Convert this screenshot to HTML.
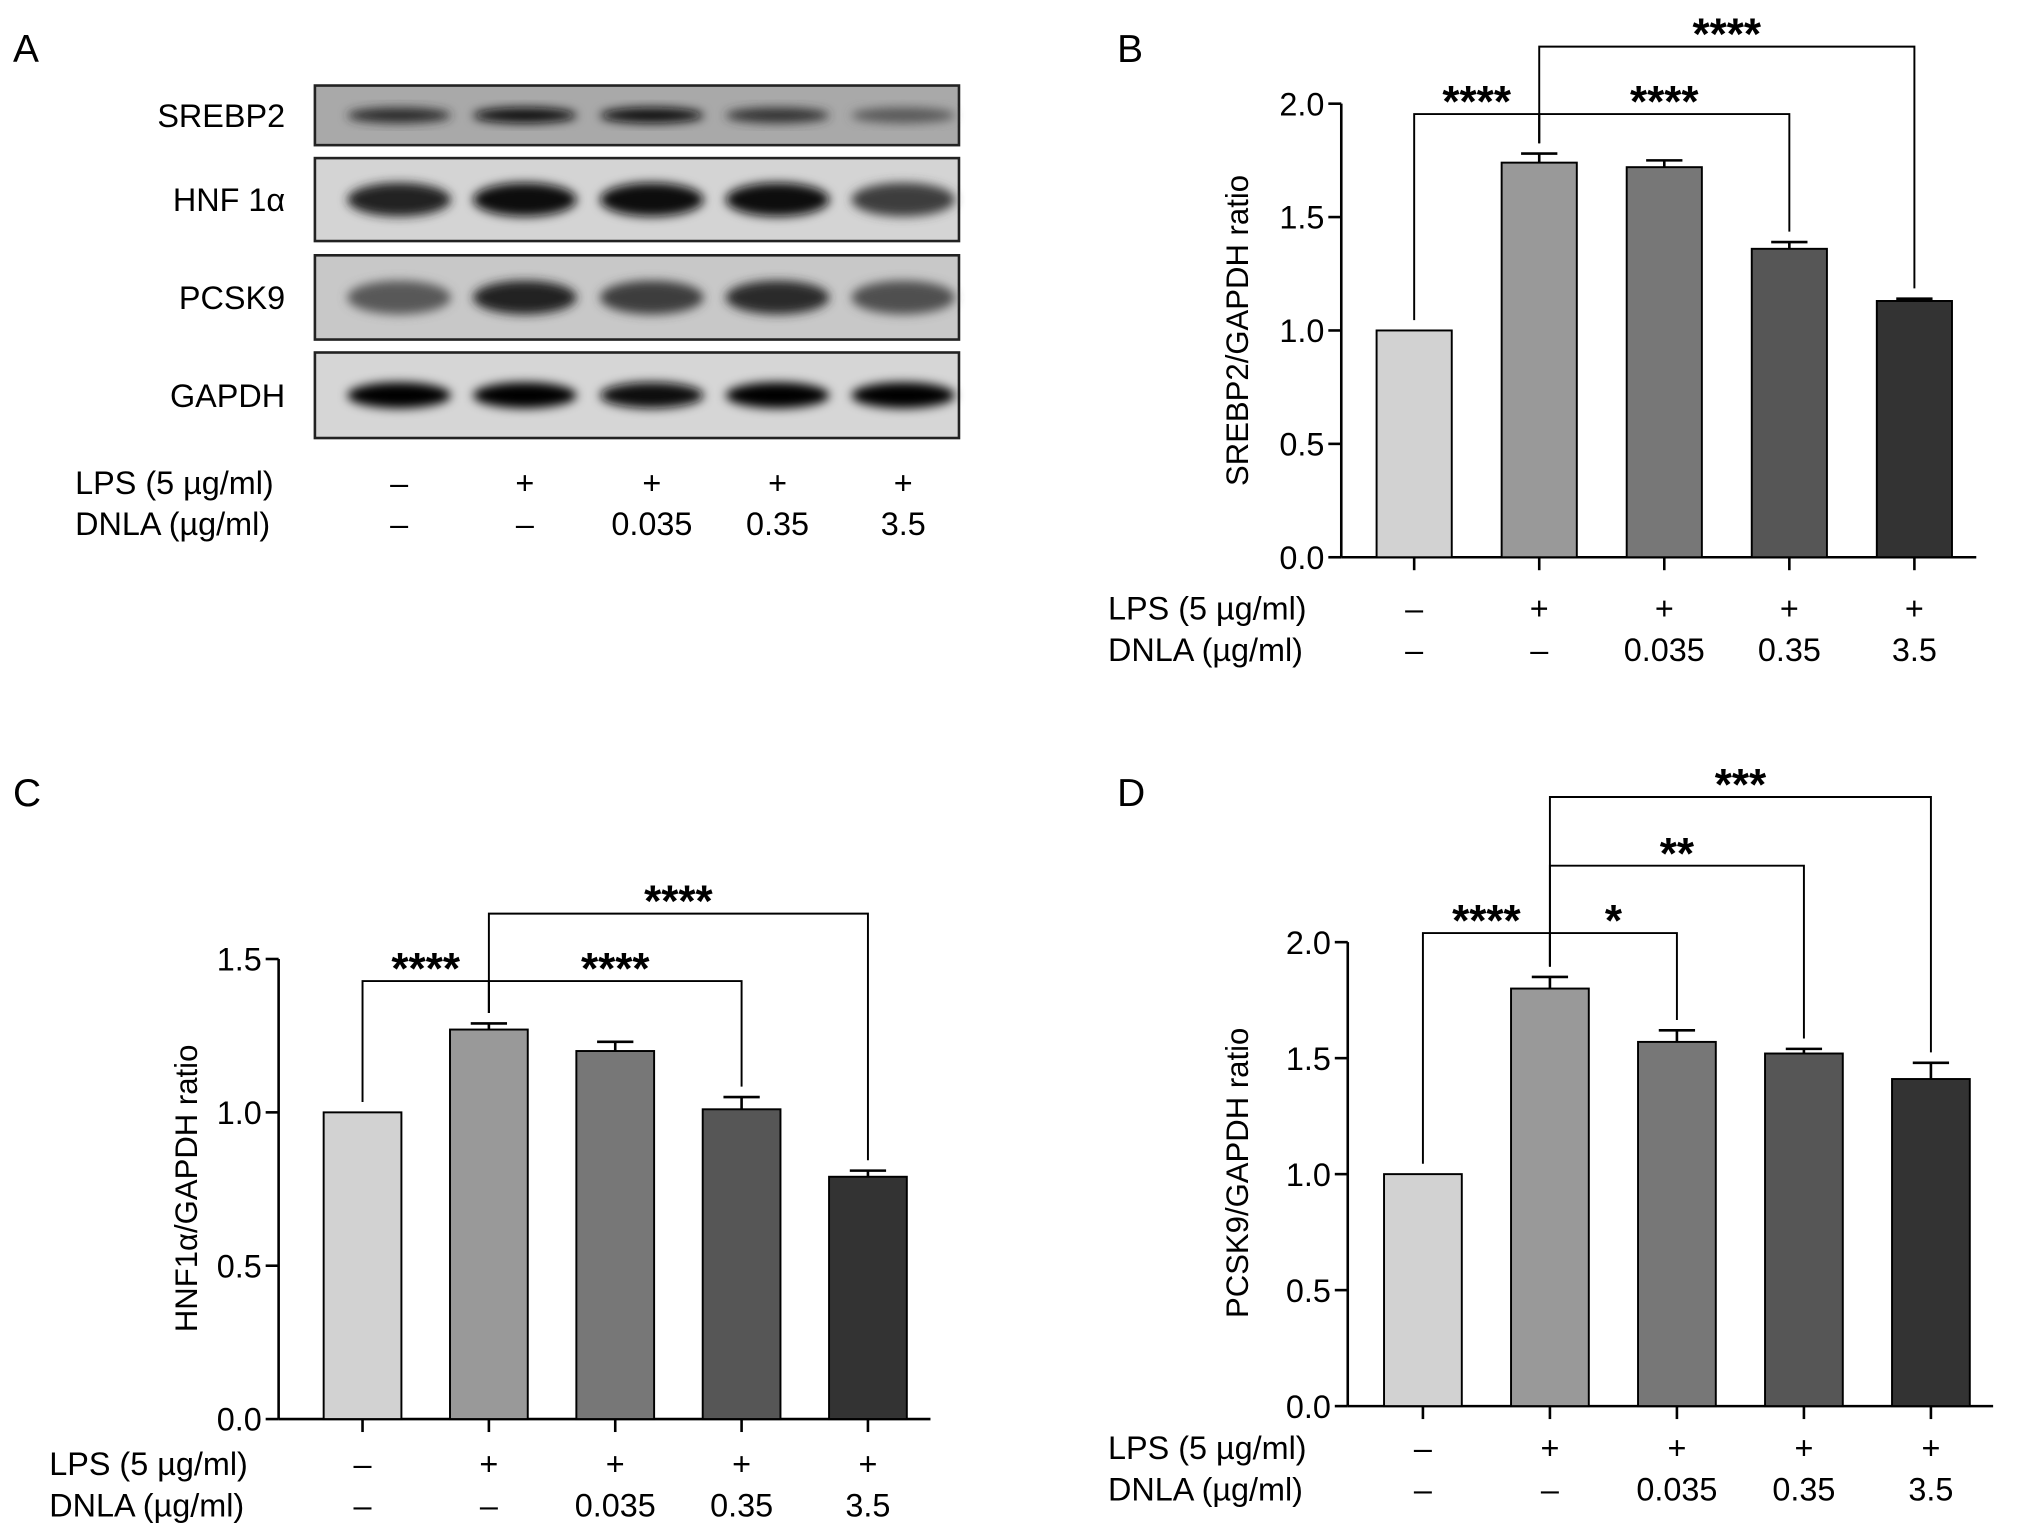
<!DOCTYPE html>
<html><head><meta charset="utf-8"><style>
html,body{margin:0;padding:0;background:#fff;}
svg{display:block;font-family:"Liberation Sans",sans-serif;}
</style></head><body>
<svg id="fig" width="2032" height="1537" viewBox="0 0 1568 1186" preserveAspectRatio="none" xmlns="http://www.w3.org/2000/svg">
<defs><filter id="blur" x="-20%" y="-50%" width="140%" height="200%"><feGaussianBlur stdDeviation="4"/></filter></defs>
<text x="10" y="48" font-size="30">A</text>
<text x="862" y="48" font-size="30">B</text>
<text x="10" y="622" font-size="30">C</text>
<text x="862" y="622" font-size="30">D</text>
<g id="blots"></g>
<g id="chartB"></g>
<g id="chartC"></g>
<g id="chartD"></g>
</svg>
<script>
const NS="http://www.w3.org/2000/svg";
const groups=["Control","LPS","LPS+0.035","LPS+0.35","LPS+3.5"];
const lpsRow=["–","+","+","+","+"];
const dnlaRow=["–","–","0.035","0.35","3.5"];
const barColors=["#d2d2d2","#999999","#777777","#565656","#333333"];
const srebpMeans=[1.0,1.74,1.72,1.36,1.13];
const srebpErr=[0,0.04,0.03,0.03,0.01];
const hnfMeans=[1.0,1.27,1.2,1.01,0.79];
const hnfErr=[0,0.02,0.03,0.04,0.02];
const pcskMeans=[1.0,1.8,1.57,1.52,1.41];
const pcskErr=[0,0.05,0.05,0.02,0.07];
const ticks2=[0,0.5,1.0,1.5,2.0];
const ticks15=[0,0.5,1.0,1.5];
const blotNames=["SREBP2","HNF 1α","PCSK9","GAPDH"];
const blotIntensity=[[0.8,0.95,0.95,0.75,0.55],[0.85,0.95,0.95,0.98,0.7],[0.55,0.85,0.7,0.8,0.6],[1,1,0.95,1,1]];

function el(tag,attrs,parent,txt){const e=document.createElementNS(NS,tag);for(const k in attrs)e.setAttribute(k,attrs[k]);if(txt!==undefined)e.textContent=txt;parent.appendChild(e);return e;}

function treatRows(g,labelX,xs,y1,y2,prefix){
  let t=el('text',{x:labelX,y:y1,'font-size':25},g,'LPS (5 µg/ml)');
  
  t=el('text',{x:labelX,y:y2,'font-size':25},g,'DNLA (µg/ml)');
  
  xs.forEach((x,i)=>{
    let a=el('text',{x:x,y:y1,'font-size':25,'text-anchor':'middle'},g,lpsRow[i]);
    
    let b=el('text',{x:x,y:y2,'font-size':25,'text-anchor':'middle'},g,dnlaRow[i]);
    
  });
}

(function(){
  const g=document.getElementById('blots');
  const rows=[[66,46],[122,64],[197,65],[272,66]];
  const lanes=[308,405,503,600,697];
  const bg=["#a9a9a9","#d4d4d4","#c8c8c8","#d6d6d6"];
  rows.forEach((r,i)=>{
    const box=el('rect',{x:243,y:r[0],width:497,height:r[1],fill:bg[i],stroke:'#222','stroke-width':2},g);
    
    lanes.forEach((x,j)=>{
      const v=blotIntensity[i][j];const c=Math.round(190-185*v);
      const b=el('ellipse',{cx:x,cy:r[0]+r[1]/2,rx:40,ry:i==0?6:(i==3?10:13),fill:`rgb(${c},${c},${c})`,filter:'url(#blur)'},g);
      
    });
    const t=el('text',{x:220,y:r[0]+r[1]/2+9,'font-size':25,'text-anchor':'end'},g,blotNames[i]);
    
  });
  treatRows(g,58,lanes,381,413,'a');
})();

function chart(id,opt){
  const g=document.getElementById(id);
  const y=v=>opt.y0-(v/opt.max)*(opt.y0-opt.yTop);
  const x=i=>opt.x0+opt.step*(i+0.5);
  let a=el('line',{x1:opt.ax,y1:opt.yTop,x2:opt.ax,y2:opt.y0,stroke:'#000','stroke-width':2},g);
  
  a=el('line',{x1:opt.ax,y1:opt.y0,x2:opt.xEnd,y2:opt.y0,stroke:'#000','stroke-width':2},g);
  
  opt.ticks.forEach(t=>{
    let l=el('line',{x1:opt.ax-10,y1:y(t),x2:opt.ax,y2:y(t),stroke:'#000','stroke-width':2},g);
    
    let tx=el('text',{x:opt.ax-13,y:y(t)+9,'font-size':25,'text-anchor':'end'},g,t.toFixed(1));
    
  });
  opt.means.forEach((m,i)=>{
    let l=el('line',{x1:x(i),y1:opt.y0,x2:x(i),y2:opt.y0+10,stroke:'#000','stroke-width':2},g);
    
    const e=opt.err[i];
    if(e>0){
      let eb=el('path',{d:`M${x(i)},${y(m)} V${y(m+e)} M${x(i)-14},${y(m+e)} H${x(i)+14}`,stroke:'#000','stroke-width':2,fill:'none'},g);
      
    }
    let b=el('rect',{x:x(i)-opt.bw/2,y:y(m),width:opt.bw,height:opt.y0-y(m),fill:barColors[i],stroke:'#000','stroke-width':1.5},g);
    
  });
  opt.sig.forEach(s=>{
    const [i,j,by,lab]=s;
    const bi=y(opt.means[i]+opt.err[i])-8, bj=y(opt.means[j]+opt.err[j])-8;
    let p=el('path',{d:`M${x(i)},${bi} V${by} H${x(j)} V${bj}`,stroke:'#000','stroke-width':1.5,fill:'none'},g);
    
    let t=el('text',{x:(x(i)+x(j))/2,y:by+2,'font-size':34,'font-weight':'bold','text-anchor':'middle'},g,lab);
    
  });
  let yl=el('text',{x:opt.ylx,y:opt.yly,'font-size':24,'text-anchor':'middle',transform:`rotate(-90 ${opt.ylx} ${opt.yly})`},g,opt.ylabel);
  
  treatRows(g,opt.lx,opt.means.map((m,i)=>x(i)),opt.r1,opt.r2,id);
}
chart('chartB',{ax:1035,x0:1043,step:96.5,xEnd:1525,yTop:80,y0:430,max:2.0,ticks:ticks2,bw:58,means:srebpMeans,err:srebpErr,
  sig:[[0,1,88,'****'],[1,3,88,'****'],[1,4,36,'****']],ylabel:'SREBP2/GAPDH ratio',ylx:963,yly:255,lx:855,r1:478,r2:510});
chart('chartC',{ax:215,x0:231,step:97.5,xEnd:718,yTop:740,y0:1095,max:1.5,ticks:ticks15,bw:60,means:hnfMeans,err:hnfErr,
  sig:[[0,1,757,'****'],[1,3,757,'****'],[1,4,705,'****']],ylabel:'HNF1α/GAPDH ratio',ylx:152,yly:917,lx:38,r1:1138,r2:1170});
chart('chartD',{ax:1040,x0:1049,step:98,xEnd:1538,yTop:727,y0:1085,max:2.0,ticks:ticks2,bw:60,means:pcskMeans,err:pcskErr,
  sig:[[0,1,720,'****'],[1,2,720,'*'],[1,3,668,'**'],[1,4,615,'***']],ylabel:'PCSK9/GAPDH ratio',ylx:963,yly:905,lx:855,r1:1126,r2:1158});
</script>
</body></html>
